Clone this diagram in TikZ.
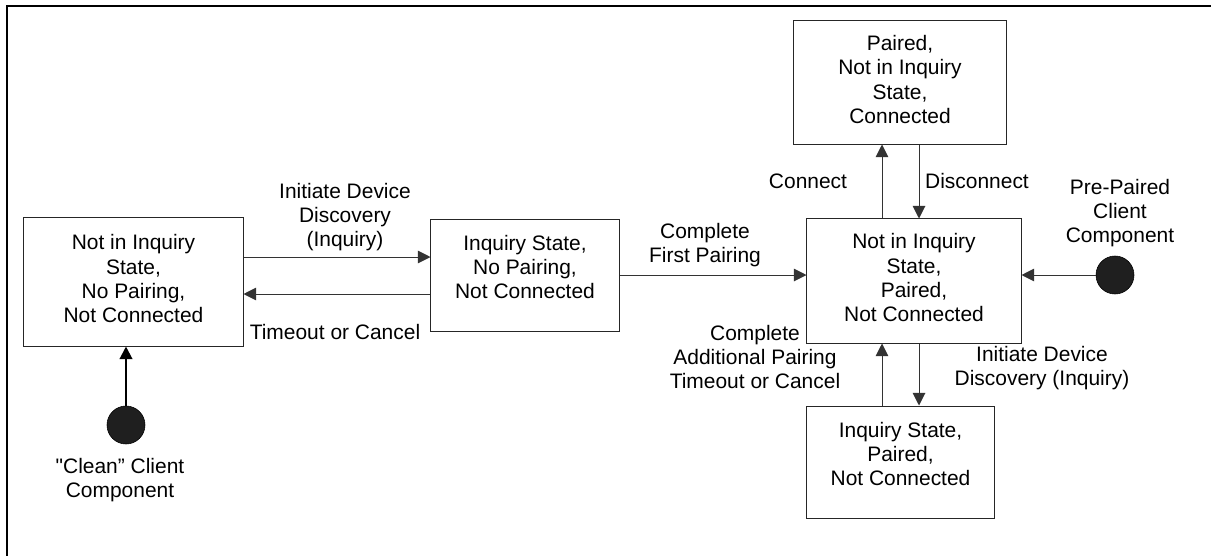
\documentclass[tikz,border=0pt]{standalone}
\usepackage{fontspec}
\setmainfont{Liberation Sans}
\newfontfamily\quotefont{Liberation Sans}
\usepackage{tikz}
\usetikzlibrary{arrows.meta, positioning}

\begin{document}
\begin{tikzpicture}[
    x=0.025cm, y=-0.025cm,
    state/.style={rectangle, draw=black!85, line width=0.7pt, align=center, inner sep=0pt, text depth=4.5pt, font=\fontsize{14.9}{17.3}\selectfont},
    lowtext/.style={text depth=11.5pt},
    entry/.style={circle, fill=black!88, draw=black, minimum size=0.95cm, inner sep=0pt},
    lbl/.style={align=center, inner sep=0pt, font=\fontsize{14.9}{17.3}\selectfont},
    arrow/.style={-{Triangle[length=9pt, width=9pt]}, line width=0.7pt, draw=black!80},
    thickarrow/.style={-{Triangle[length=9pt, width=9pt]}, line width=1.5pt}
]
\useasboundingbox (0,0) rectangle (1211,555);

% Frame (top and left edges only)
\draw[line width=1.5pt] (7,560) -- (7,6) -- (1215,6);

% States
\node[state, minimum width=5.475cm, minimum height=3.2cm] (idle) at (133.5,282) {Not in Inquiry\\State,\\No Pairing,\\Not Connected};
\node[state, lowtext, minimum width=4.7cm, minimum height=2.8cm] (inq) at (525,275) {Inquiry State,\\No Pairing,\\Not Connected};
\node[state, minimum width=5.35cm, minimum height=3.1cm] (paired) at (914,281) {Not in Inquiry\\State,\\Paired,\\Not Connected};
\node[state, minimum width=5.3cm, minimum height=3.075cm] (conn) at (900,82.5) {Paired,\\Not in Inquiry\\State,\\Connected};
\node[state, lowtext, minimum width=4.675cm, minimum height=2.8cm] (inqp) at (900.5,462) {Inquiry State,\\Paired,\\Not Connected};

% Entry points
\node[entry] (clean) at (126,425) {};
\node[entry] (pre) at (1115,275) {};

% Labels
\node[lbl] (lidd) at (345,217) {Initiate Device\\Discovery\\(Inquiry)};
\node[lbl] (ltoc) at (335,332) {Timeout or Cancel};
\node[lbl] (lfirst) at (705,245) {Complete\\First Pairing};
\node[lbl] (lconn) at (808,181) {Connect};
\node[lbl] (ldisc) at (977,181) {Disconnect};
\node[lbl] (lpre) at (1120,213) {Pre-Paired\\Client\\Component};
\node[lbl] (ladd) at (755,357) {Complete\\Additional Pairing\\Timeout or Cancel};
\node[lbl] (lidd2) at (1042,368) {Initiate Device\\Discovery (Inquiry)};
\node[lbl] (lclean) at (120,480) {{\quotefont"}Clean” Client\\Component};

% Arrows
\draw[arrow] (idle.east |- 0,257) -- (inq.west |- 0,257);
\draw[arrow] (inq.west |- 0,294) -- (idle.east |- 0,294);
\draw[arrow] (inq.east |- 0,275) -- (paired.west |- 0,275);
\draw[arrow] (paired.north -| 882,0) -- (conn.south -| 882,0);
\draw[arrow] (conn.south -| 919,0) -- (paired.north -| 919,0);
\draw[arrow] (paired.south -| 919,0) -- (inqp.north -| 919,0);
\draw[arrow] (inqp.north -| 882,0) -- (paired.south -| 882,0);
\draw[arrow] (pre) -- (paired.east |- pre);
\draw[thickarrow] (clean) -- (idle.south -| clean);

\end{tikzpicture}
\end{document}
